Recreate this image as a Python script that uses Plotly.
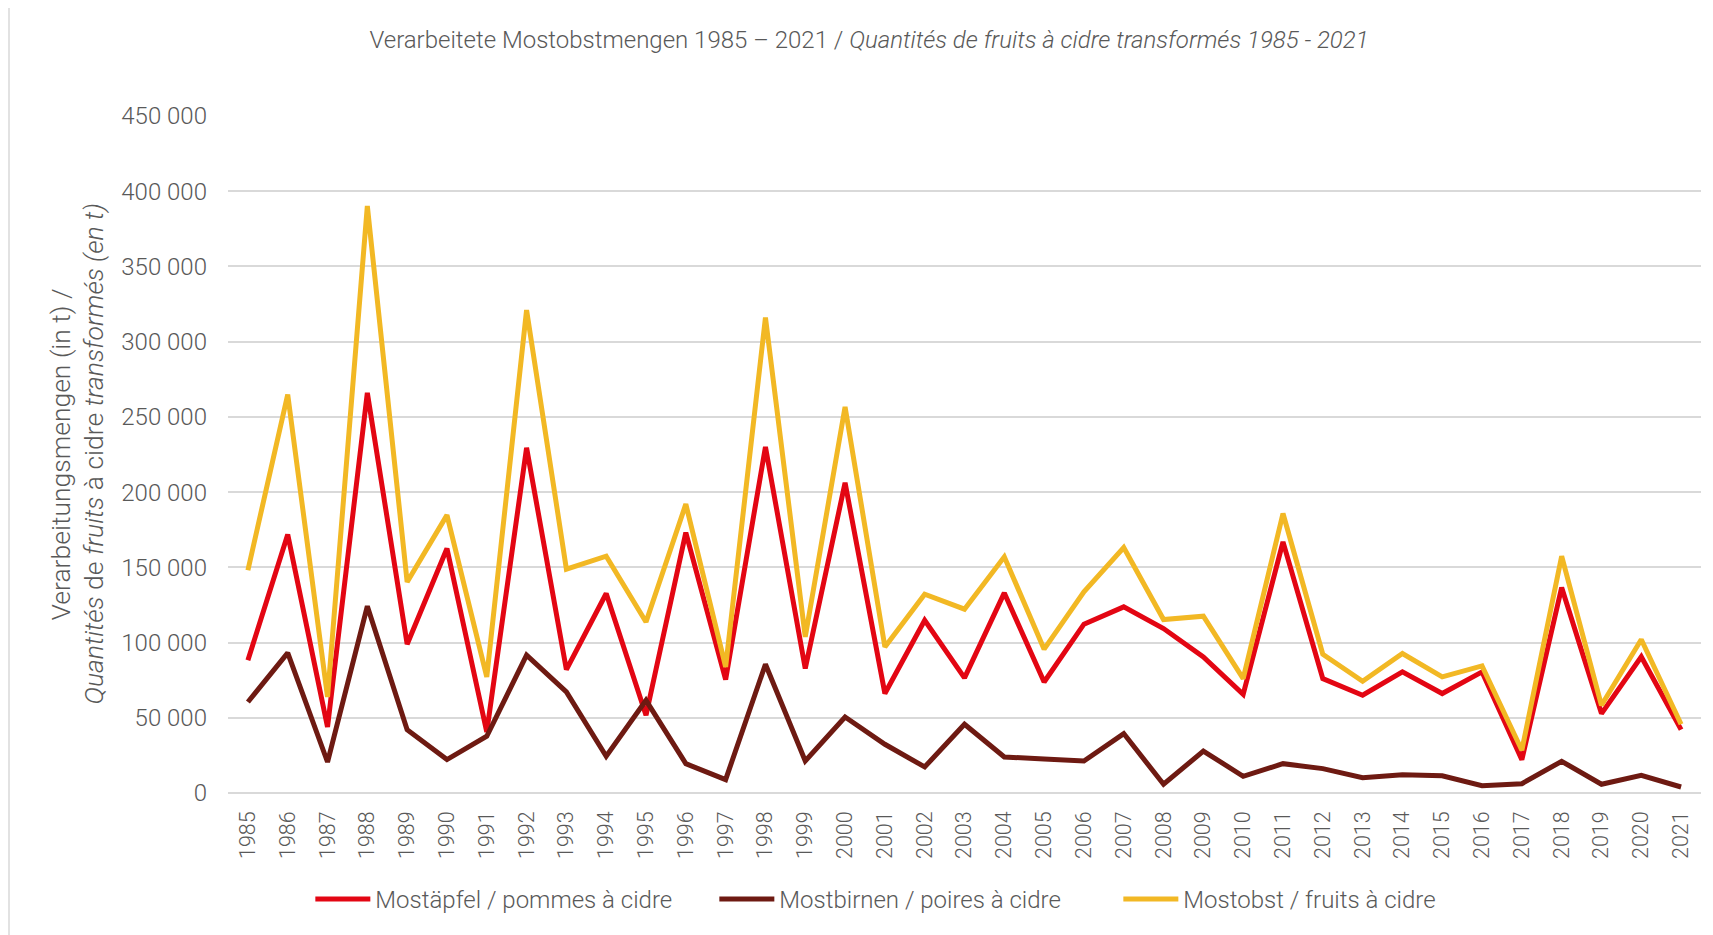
import plotly.graph_objects as go

years = [str(y) for y in range(1985, 2022)]

mostaepfel = [88200, 171800, 43900, 266000, 98900, 162500, 40600, 229500, 82000,
              132600, 51700, 173100, 75400, 230100, 82700, 206200, 66100, 114800,
              76500, 133000, 73800, 112200, 123700, 109300, 90500, 65600, 166900,
              76000, 65000, 80500, 66100, 80500, 22200, 136600, 52800, 90500, 42100]

mostbirnen = [60500, 93100, 20600, 124200, 42100, 22200, 37700, 91600, 67200,
              24400, 61600, 19500, 8900, 85600, 21300, 50500, 32400, 17300,
              45700, 23900, 22600, 21300, 39500, 5800, 27900, 11100, 19500,
              16200, 10200, 12200, 11500, 4900, 6200, 21100, 5800, 11800, 4000]

mostobst = [148100, 264900, 63800, 390200, 140300, 184700, 77200, 321000, 148800,
            157400, 113700, 192000, 83800, 316100, 103800, 256700, 97100, 132100,
            122200, 157000, 95600, 133700, 163200, 115300, 117500, 76000, 185800,
            92200, 74300, 92700, 77200, 84500, 28400, 157400, 58300, 102000, 45700]

series_names = ["Mostäpfel / pommes à cidre", "Mostbirnen / poires à cidre", "Mostobst / fruits à cidre"]
series_colors = ["#E30613", "#6E1A12", "#F2B824"]

y_ticks = [0, 50000, 100000, 150000, 200000, 250000, 300000, 350000, 400000, 450000]
y_tick_labels = ["0", "50 000", "100 000", "150 000", "200 000", "250 000",
                 "300 000", "350 000", "400 000", "450 000"]

FONT = "Roboto"
GRAY = "#595959"

# page has an 8px body margin: layout is offset accordingly
W, H = 1705, 927
L, T = 220, 108
PW, PH = 1473, 676.7

fig = go.Figure()
for name, vals, col in zip(series_names, [mostaepfel, mostbirnen, mostobst], series_colors):
    fig.add_trace(go.Scatter(x=years, y=vals, mode="lines", name=name,
                             line=dict(color=col, width=5)))

def px_x(xf):
    return (xf - 8 - L) / PW

def px_y(yf):
    return (T + PH - (yf - 8)) / PH

fig.update_layout(
    width=W, height=H,
    margin=dict(l=L, r=W - L - PW, t=T, b=H - T - PH),
    paper_bgcolor="white", plot_bgcolor="white",
    font=dict(family=FONT, color=GRAY, size=22, weight=300),
    title=dict(
        text="Verarbeitete Mostobstmengen 1985 – 2021 / <i>Quantités de fruits à cidre transformés 1985 - 2021</i>",
        x=(869 - 8) / W, xanchor="center", y=1 - (40 - 8) / H, yanchor="middle",
        font=dict(family=FONT, size=24, color=GRAY, weight=300),
    ),
    showlegend=True,
    legend=dict(orientation="h", x=0.0559, xanchor="left", y=px_y(899), yanchor="middle",
                font=dict(family=FONT, size=24, color=GRAY, weight=300),
                entrywidth=334, entrywidthmode="pixels", traceorder="normal", itemwidth=55),
    xaxis=dict(type="category", range=[-0.5, 36.5], showgrid=False, showline=False,
               tickangle=-90, tickfont=dict(family=FONT, size=21.5, color=GRAY, weight=300),
               ticks="", ticklabelstandoff=13, fixedrange=True),
    yaxis=dict(range=[0, 450000], tickvals=y_ticks, ticktext=y_tick_labels,
               showgrid=True, gridcolor="#D9D9D9", gridwidth=1.5,
               zeroline=True, zerolinecolor="#D9D9D9", zerolinewidth=1.5,
               showline=False, ticks="", ticklabelstandoff=20,
               tickfont=dict(family=FONT, size=24, color=GRAY, weight=300)),
    shapes=[dict(type="rect", xref="paper", yref="paper",
                 x0=px_x(9), x1=px_x(1730),
                 y0=px_y(950), y1=px_y(5),
                 line=dict(color="#D9D9D9", width=1.5), fillcolor="rgba(0,0,0,0)", layer="below")],
    annotations=[
        dict(text="Verarbeitungsmengen (in t) /", textangle=-90, xref="paper", yref="paper",
             x=px_x(60), y=0.5, xanchor="center", yanchor="middle", showarrow=False,
             font=dict(family=FONT, size=26.5, color=GRAY, weight=300)),
        dict(text="<i>Quantités</i> de <i>fruits</i> à cidre <i>transformés (en t)</i>", textangle=-90,
             xref="paper", yref="paper",
             x=px_x(93), y=0.5, xanchor="center", yanchor="middle", showarrow=False,
             font=dict(family=FONT, size=26.5, color=GRAY, weight=300)),
    ],
)

fig.write_html("out.html")
